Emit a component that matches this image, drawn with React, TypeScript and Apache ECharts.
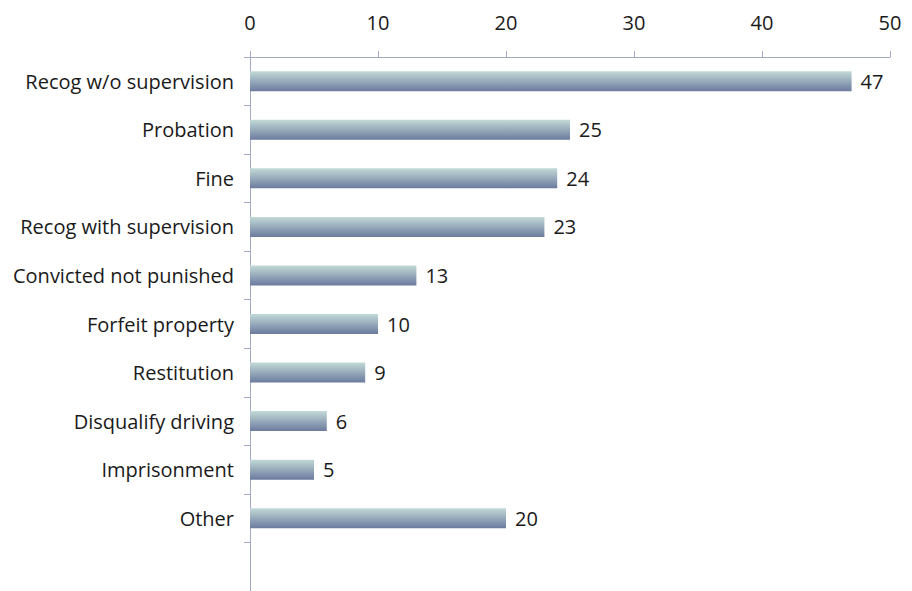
import React, { useEffect, useRef } from "react";
import * as echarts from "echarts";

const categories = [
  "Recog w/o supervision",
  "Probation",
  "Fine",
  "Recog with supervision",
  "Convicted not punished",
  "Forfeit property",
  "Restitution",
  "Disqualify driving",
  "Imprisonment",
  "Other",
  "",
];
const values: (number | string)[] = [47, 25, 24, 23, 13, 10, 9, 6, 5, 20, "-"];
const xTicks = [0, 10, 20, 30, 40, 50];

export default function App() {
  const ref = useRef<HTMLDivElement>(null);
  useEffect(() => {
    const chart = echarts.init(ref.current!, null, { renderer: "svg" });
    const font = "'Open Sans', 'Noto Sans', sans-serif";
    const axisColor = "#a3aac8";
    chart.setOption({
      animation: false,
      grid: { left: 250, right: 22, top: 57, height: 534, containLabel: false },
      xAxis: {
        type: "value",
        position: "top",
        min: xTicks[0],
        max: xTicks[xTicks.length - 1],
        interval: 10,
        axisLine: { show: true, lineStyle: { color: axisColor, width: 1 } },
        axisTick: { show: true, length: 6, lineStyle: { color: axisColor } },
        splitLine: { show: false },
        axisLabel: { color: "#1a1a1a", fontSize: 20, fontFamily: font, margin: 25 },
      },
      yAxis: {
        type: "category",
        inverse: true,
        data: categories,
        axisLine: { show: true, lineStyle: { color: axisColor, width: 1 } },
        axisTick: { show: true, length: 6, lineStyle: { color: axisColor } },
        axisLabel: { color: "#1a1a1a", fontSize: 20, fontFamily: font, margin: 16 },
      },
      series: [
        {
          type: "bar",
          data: values,
          barWidth: 20,
          itemStyle: {
            color: new echarts.graphic.LinearGradient(0, 0, 0, 1, [
              { offset: 0, color: "#c2dad7" },
              { offset: 1, color: "#6b7a9e" },
            ]),
          },
          label: {
            show: true,
            position: "right",
            distance: 9,
            color: "#1a1a1a",
            fontSize: 20,
            fontFamily: font,
          },
        },
      ],
    });
    return () => chart.dispose();
  }, []);
  return (
    <div
      ref={ref}
      style={{ position: "fixed", left: 0, top: 0, width: 912, height: 591, background: "#fff" }}
    />
  );
}
